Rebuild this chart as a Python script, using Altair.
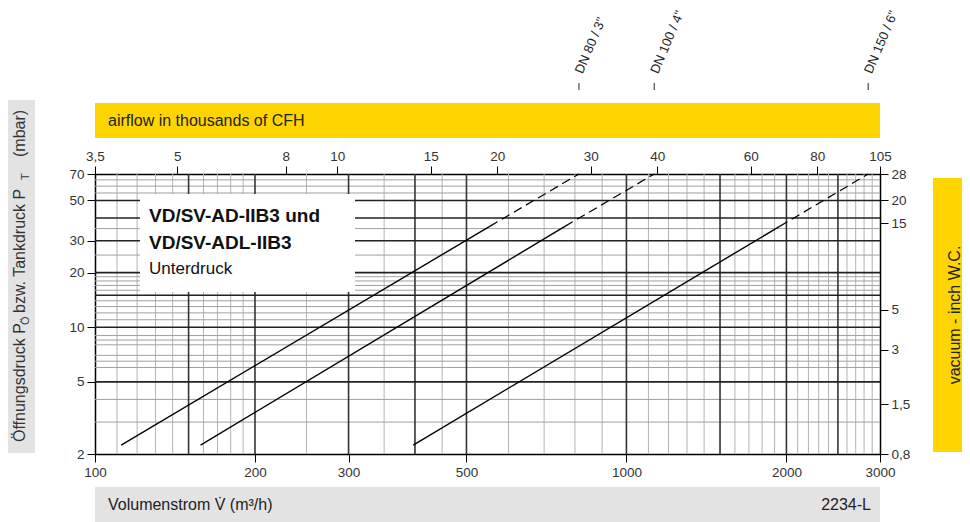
import altair as alt
import pandas as pd

# ---------------- data ----------------
x_thin = [110, 120, 130, 140, 160, 170, 180, 190, 250, 350, 450, 600, 700, 800, 900,
          1100, 1200, 1300, 1400, 1600, 1700, 1800, 1900, 2100, 2200, 2300, 2400,
          2600, 2700, 2800, 2900]
x_thick = [150, 200, 300, 400, 500, 1000, 1500, 2000, 2500]
y_thin = [3, 4, 6, 6.5, 7, 8, 8.5, 9, 11, 12, 13, 14, 16, 17, 18, 19, 25, 35, 55, 60, 65]
y_thick = [5, 10, 15, 20, 30, 40, 50]

series = ['DN 80 / 3"', 'DN 100 / 4"', 'DN 150 / 6"']
v_start = [112, 158, 397]
v_mid = [553, 766, 1942]
v_end = [814, 1128, 2850]
p_start = [2.24, 2.24, 2.24]
p_mid = [36, 36, 36]
p_end = [70, 70, 70]

x_ticks = [100, 200, 300, 500, 1000, 2000, 3000]
y_ticks = [2, 5, 10, 20, 30, 50, 70]
cfh_ticks = [3.5, 5, 8, 10, 15, 20, 30, 40, 60, 80, 105]
inwc_ticks = [0.8, 1.5, 3, 5, 15, 20, 28]

top_band_text = "airflow in thousands of CFH"
bottom_band_text = "Volumenstrom V\u0307 (m³/h)"
code_text = "2234-L"
right_band_text = "vacuum  - inch W.C."
left_texts = ["Öffnungsdruck P", "Ö", " bzw. Tankdruck P", "T", "(mbar)"]
legend_lines = ["VD/SV-AD-IIB3 und", "VD/SV-ADL-IIB3", "Unterdruck"]

# ---------------- tables ----------------
rows = []
for s, vs, vm, ve, ps, pm, pe in zip(series, v_start, v_mid, v_end, p_start, p_mid, p_end):
    rows += [dict(series=s, part="solid", V=vs, p=ps), dict(series=s, part="solid", V=vm, p=pm),
             dict(series=s, part="dash", V=vm, p=pm), dict(series=s, part="dash", V=ve, p=pe)]
curves = pd.DataFrame(rows)
ends = pd.DataFrame({"series": series, "V": v_end})

FONT = "Liberation Sans"
YEL = "#FFD500"
GRY = "#E3E3E3"

xs = alt.Scale(type="log", domain=[100, 3000])
ys = alt.Scale(type="log", domain=[2, 70])

ax_common = dict(grid=False, domainColor="black", domainWidth=1.5, tickColor="black",
                 tickSize=8, labelFontSize=13.5, labelColor="#333", labelFont=FONT,
                 title=None, labelFlush=False, labelOverlap=False, labelPadding=3)

one = pd.DataFrame({"a": [0]})


def box(x, x2, y, y2, color):
    return alt.Chart(one).mark_rect(color=color).encode(
        x=alt.value(x), x2=alt.value(x2), y=alt.value(y), y2=alt.value(y2))


def txt(x, y, t, **kw):
    return alt.Chart(one).mark_text(font=FONT, **kw).encode(
        x=alt.value(x), y=alt.value(y), text=alt.value(t))


vthin = alt.Chart(pd.DataFrame({"V": x_thin})).mark_rule(color="#b4b4b4", strokeWidth=1).encode(
    x=alt.X("V:Q", scale=xs, axis=None))
vthick = alt.Chart(pd.DataFrame({"V": x_thick})).mark_rule(color="#333", strokeWidth=1.6).encode(
    x=alt.X("V:Q", scale=xs, axis=None))
hthin = alt.Chart(pd.DataFrame({"p": y_thin})).mark_rule(color="#a0a0a0", strokeWidth=1).encode(
    y=alt.Y("p:Q", scale=ys, axis=None))
hthick = alt.Chart(pd.DataFrame({"p": y_thick})).mark_rule(color="#222", strokeWidth=1.6).encode(
    y=alt.Y("p:Q", scale=ys, axis=None))

legend_box = box(45, 260, 20, 118, "white")
leg1 = txt(54, 47.5, legend_lines[0], align="left", baseline="alphabetic", fontSize=19, fontWeight="bold", color="#111")
leg2 = txt(54, 74.5, legend_lines[1], align="left", baseline="alphabetic", fontSize=19, fontWeight="bold", color="#111")
leg3 = txt(54, 100, legend_lines[2], align="left", baseline="alphabetic", fontSize=17, color="#111")

solid = alt.Chart(curves).transform_filter("datum.part == 'solid'").mark_line(
    color="black", strokeWidth=1.4).encode(
    x=alt.X("V:Q", scale=xs, axis=alt.Axis(orient="bottom", values=x_ticks, format="d", **ax_common)),
    y=alt.Y("p:Q", scale=ys, axis=alt.Axis(orient="left", values=y_ticks, format="d", **ax_common)),
    detail="series:N")
dashed = alt.Chart(curves).transform_filter("datum.part == 'dash'").mark_line(
    color="black", strokeWidth=1.2, strokeDash=[9, 5]).encode(
    x=alt.X("V:Q", scale=xs, axis=None),
    y=alt.Y("p:Q", scale=ys, axis=None),
    detail="series:N")

top_axis = alt.Chart(pd.DataFrame({"cfh": cfh_ticks})).mark_point(opacity=0).encode(
    x=alt.X("cfh:Q", scale=alt.Scale(type="log", domain=[3.5, 105]),
            axis=alt.Axis(orient="top", values=cfh_ticks, format="~g",
                          labelExpr="replace(datum.label, '.', ',')", **ax_common)))
right_axis = alt.Chart(pd.DataFrame({"inwc": inwc_ticks})).mark_point(opacity=0).encode(
    y=alt.Y("inwc:Q", scale=alt.Scale(type="log", domain=[0.8, 28]),
            axis=alt.Axis(orient="right", values=inwc_ticks, format="~g",
                          labelExpr="replace(datum.label, '.', ',')", **ax_common)))

dn_ticks = alt.Chart(ends).mark_rule(color="#222", strokeWidth=1).encode(
    x=alt.X("V:Q", scale=xs, axis=None), y=alt.value(-91), y2=alt.value(-84))
dn_text = alt.Chart(ends).mark_text(font=FONT, fontSize=13, angle=293, align="left",
                                    baseline="middle", color="#222").encode(
    x=alt.X("V:Q", scale=xs, axis=None), y=alt.value(-101), text="series:N")

top_band = box(0, 785, -71, -36, YEL)
top_band_t = txt(13, -53, top_band_text, align="left", baseline="middle", fontSize=16, color="#222")
bottom_band = box(0, 785, 313, 348, GRY)
bottom_t1 = txt(13, 331, bottom_band_text, align="left", baseline="middle", fontSize=16, color="#222")
bottom_t2 = txt(776, 331, code_text, align="right", baseline="middle", fontSize=16, color="#222")
right_band = box(838, 880, 4, 278, YEL)
right_t = txt(860, 141, right_band_text, align="center", baseline="middle", fontSize=16, angle=270, color="#222")
left_band = box(-100, -60, -74, 279, GRY)
lt1 = txt(-75, 268, left_texts[0], align="left", baseline="middle", fontSize=16, angle=270, color="#333")
lt2 = txt(-69, 151, left_texts[1], align="left", baseline="middle", fontSize=11, angle=270, color="#333")
lt3 = txt(-75, 139, left_texts[2], align="left", baseline="middle", fontSize=16, angle=270, color="#333")
lt4 = txt(-69, 6, left_texts[3], align="left", baseline="middle", fontSize=11, angle=270, color="#333")
lt5 = txt(-75, -17, left_texts[4], align="left", baseline="middle", fontSize=16, angle=270, color="#333")

chart = alt.layer(
    top_band, top_band_t, bottom_band, bottom_t1, bottom_t2, right_band, right_t,
    left_band, lt1, lt2, lt3, lt4, lt5,
    vthin, hthin, vthick, hthick, legend_box, leg1, leg2, leg3,
    solid, dashed, top_axis, right_axis, dn_ticks, dn_text,
).resolve_scale(x="independent", y="independent").properties(
    width=785, height=280,
    autosize=alt.AutoSizeParams(type="none"),
    padding={"left": 87, "top": 166, "right": 82, "bottom": 68},
).configure_view(stroke=None).configure(font=FONT)

chart.save("out.html", embed_options={"renderer": "svg", "actions": False})
